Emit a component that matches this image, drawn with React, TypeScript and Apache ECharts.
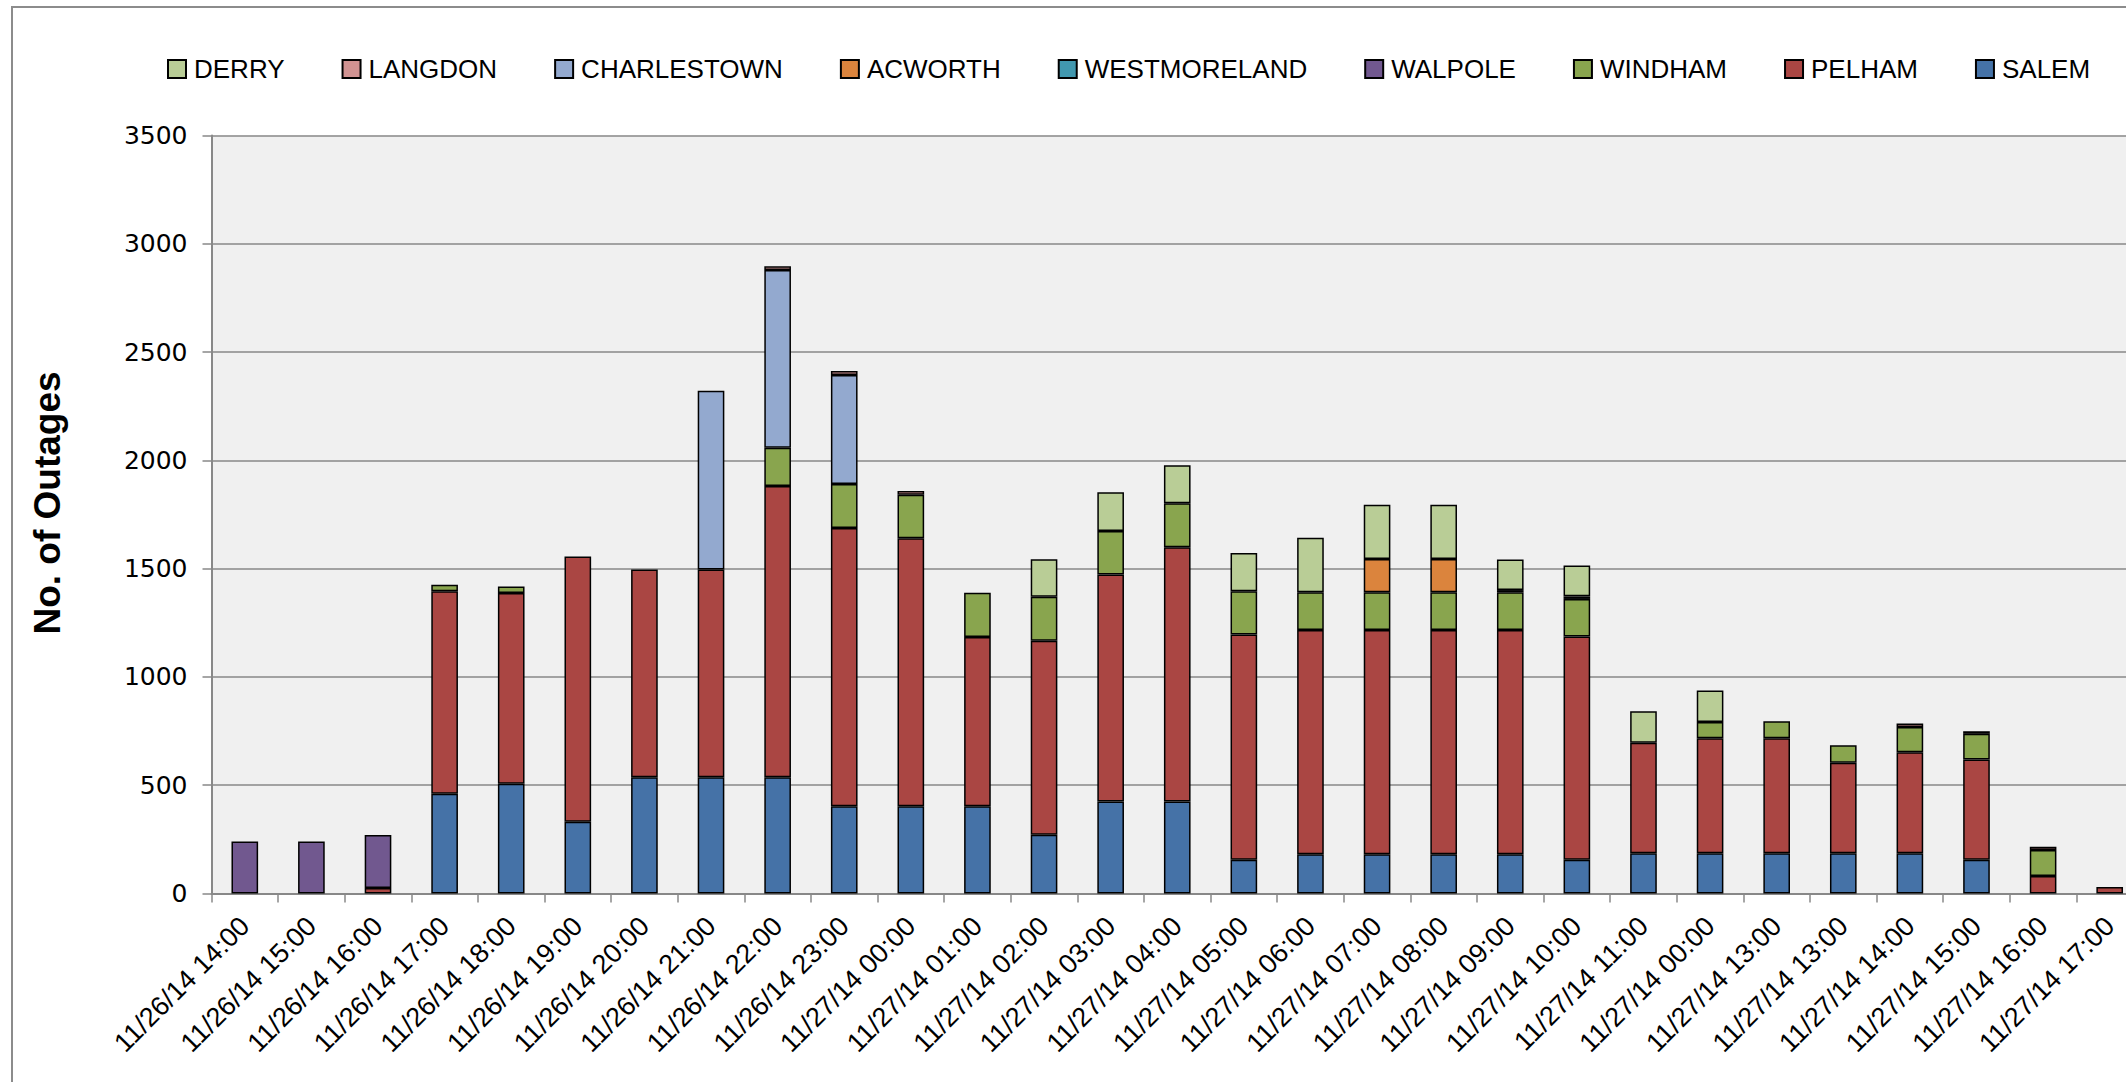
import React, { useEffect, useRef } from "react";
import * as echarts from "echarts";

const categories = [
  "11/26/14 14:00", "11/26/14 15:00", "11/26/14 16:00", "11/26/14 17:00", "11/26/14 18:00",
  "11/26/14 19:00", "11/26/14 20:00", "11/26/14 21:00", "11/26/14 22:00", "11/26/14 23:00",
  "11/27/14 00:00", "11/27/14 01:00", "11/27/14 02:00", "11/27/14 03:00", "11/27/14 04:00",
  "11/27/14 05:00", "11/27/14 06:00", "11/27/14 07:00", "11/27/14 08:00", "11/27/14 09:00",
  "11/27/14 10:00", "11/27/14 11:00", "11/27/14 00:00", "11/27/14 13:00", "11/27/14 13:00",
  "11/27/14 14:00", "11/27/14 15:00", "11/27/14 16:00", "11/27/14 17:00",
];

const salem = [0, 0, 0, 460, 507, 331, 536, 536, 536, 403, 403, 403, 271, 425, 425, 155, 181, 181, 181, 181, 155, 186, 186, 186, 186, 186, 155, 0, 0];
const pelham = [0, 0, 25, 935, 880, 1225, 960, 960, 1346, 1285, 1237, 781, 896, 1048, 1174, 1041, 1036, 1036, 1036, 1036, 1031, 510, 531, 531, 418, 466, 463, 80, 29];
const windham = [0, 0, 0, 30, 30, 0, 0, 0, 176, 203, 201, 205, 203, 201, 203, 200, 174, 174, 174, 174, 174, 0, 75, 78, 80, 116, 119, 120, 0];
const walpole = [240, 240, 245, 0, 0, 0, 0, 0, 0, 0, 0, 0, 0, 0, 0, 0, 0, 0, 0, 0, 0, 0, 0, 0, 0, 0, 0, 0, 0];
const westmoreland = [0, 0, 0, 0, 0, 0, 0, 0, 0, 0, 0, 0, 0, 0, 0, 0, 0, 0, 0, 10, 12, 0, 0, 0, 0, 0, 0, 0, 0];
const acworth = [0, 0, 0, 0, 0, 0, 0, 0, 0, 0, 0, 0, 0, 0, 0, 0, 0, 153, 153, 0, 0, 0, 0, 0, 0, 0, 0, 0, 0];
const charlestown = [0, 0, 0, 0, 0, 0, 0, 825, 821, 503, 0, 0, 0, 0, 0, 0, 0, 0, 0, 0, 0, 0, 0, 0, 0, 0, 0, 0, 0];
const langdon = [0, 0, 0, 0, 0, 0, 0, 0, 17, 19, 17, 0, 0, 0, 0, 0, 0, 0, 0, 0, 0, 0, 0, 0, 0, 17, 12, 15, 0];
const derry = [0, 0, 0, 0, 0, 0, 0, 0, 0, 0, 0, 0, 173, 179, 176, 176, 252, 251, 251, 141, 143, 145, 145, 0, 0, 0, 0, 0, 0];

const seriesNames = ["SALEM", "PELHAM", "WINDHAM", "WALPOLE", "WESTMORELAND", "ACWORTH", "CHARLESTOWN", "LANGDON", "DERRY"];
const seriesValues = [salem, pelham, windham, walpole, westmoreland, acworth, charlestown, langdon, derry];
const seriesColors = ["#4572A7", "#AA4643", "#89A54E", "#71588F", "#4198AF", "#DB843D", "#93A9CF", "#D19392", "#B9CD96"];

const yTicks = { min: 0, max: 3500, interval: 500 };

export default function App() {
  const ref = useRef<HTMLDivElement>(null);

  useEffect(() => {
    if (!ref.current) return;
    const chart = echarts.init(ref.current, undefined, { renderer: "svg" });
    const font = "'Liberation Sans', Arial, sans-serif";

    chart.setOption({
      animation: false,
      backgroundColor: "#ffffff",
      legend: {
        data: seriesNames.slice().reverse(),
        left: 162,
        top: 51,
        itemWidth: 18,
        itemHeight: 18,
        itemGap: 57,
        icon: "rect",
        textStyle: { fontFamily: font, fontSize: 26, color: "#000", padding: [0, 0, 0, 3] },
      },
      grid: {
        left: 211.5,
        top: 135.6,
        bottom: 188.6,
        right: 17,
        show: true,
        backgroundColor: "#f0f0f0",
        borderWidth: 0,
      },
      xAxis: {
        type: "category",
        data: categories,
        axisLine: { lineStyle: { color: "#888", width: 2 } },
        axisTick: { show: true, length: 9, lineStyle: { color: "#888", width: 1.5 } },
        axisLabel: {
          rotate: 45,
          interval: 0,
          margin: 28,
          fontFamily: font,
          fontSize: 27,
          color: "#000",
        },
      },
      yAxis: {
        type: "value",
        min: yTicks.min,
        max: yTicks.max,
        interval: yTicks.interval,
        axisLine: { show: true, lineStyle: { color: "#888", width: 2 } },
        axisTick: { show: true, length: 9, lineStyle: { color: "#888", width: 1.5 } },
        splitLine: { lineStyle: { color: "#888", width: 1.5 } },
        axisLabel: {
          margin: 24,
          fontFamily: "'DejaVu Sans', sans-serif",
          fontSize: 25,
          color: "#000",
          formatter: (v: number) => String(v),
        },
      },
      graphic: [
        {
          type: "rect",
          shape: { x: 12, y: 7, width: 2400, height: 1400 },
          style: { fill: "none", stroke: "#8c8c8c", lineWidth: 2 },
          silent: true,
          z: -1,
        },
        {
          type: "text",
          x: 47,
          y: 503,
          rotation: Math.PI / 2,
          style: {
            text: "No. of Outages",
            fontFamily: font,
            fontWeight: "bold",
            fontSize: 37,
            fill: "#000",
            align: "center",
            verticalAlign: "middle",
          },
        },
      ],
      series: seriesNames.map((name, i) => ({
        name,
        type: "bar",
        stack: "total",
        barWidth: "40%",
        data: seriesValues[i].map((v) => (v === 0 ? null : v)),
        itemStyle: { color: seriesColors[i], borderColor: "#000", borderWidth: 1.5 },
        emphasis: { disabled: true },
      })),
    });

    return () => chart.dispose();
  }, []);

  return (
    <div style={{ position: "fixed", left: 0, top: 0, width: 2126, height: 1082, overflow: "hidden", background: "#fff" }}>
      <div ref={ref} style={{ width: 2160, height: 1082 }} />
    </div>
  );
}
